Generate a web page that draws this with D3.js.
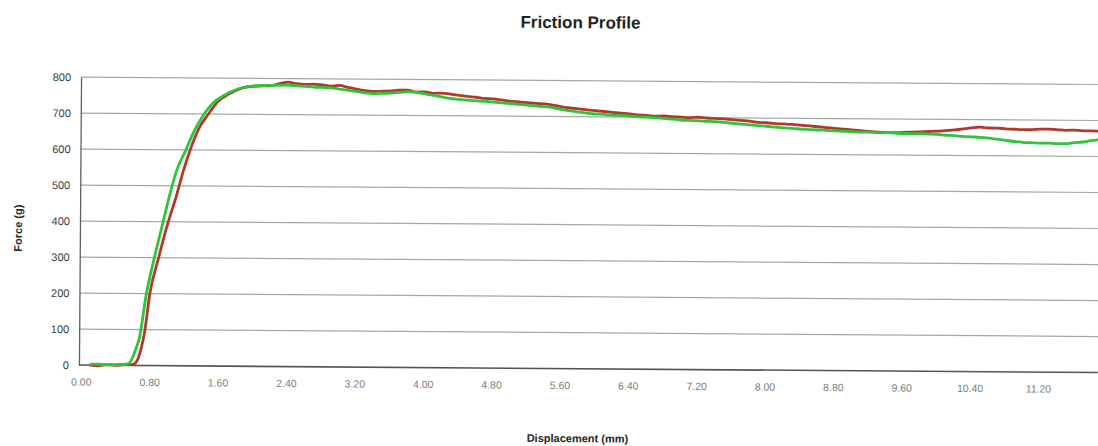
<!DOCTYPE html>
<html lang="en">
<head>
<meta charset="UTF-8">
<title>Friction Profile</title>
<script src="https://cdn.jsdelivr.net/npm/d3@7"></script>
<style>
  body { margin: 0; background: #fff; }
  svg text { font-family: "Liberation Sans", Arial, sans-serif; }
</style>
</head>
<body>
<div id="chart"></div>
<script>
// values (displacement in mm, force in g)
var redX = [0.10, 0.20, 0.30, 0.40, 0.50, 0.58, 0.62, 0.66, 0.70, 0.74, 0.80, 0.90, 1.01, 1.10, 1.18, 1.26, 1.36, 1.47, 1.58, 1.70, 1.85, 2.00, 2.20, 2.40, 2.50, 2.60, 2.70, 2.80, 2.90, 3.00, 3.10, 3.20, 3.30, 3.40, 3.50, 3.60, 3.70, 3.80, 3.90, 4.00, 4.10, 4.20, 4.30, 4.40, 4.50, 4.60, 4.70, 4.80, 4.90, 5.00, 5.10, 5.20, 5.30, 5.40, 5.50, 5.60, 5.70, 5.80, 5.90, 6.00, 6.10, 6.20, 6.30, 6.40, 6.50, 6.60, 6.70, 6.80, 6.90, 7.00, 7.10, 7.20, 7.30, 7.40, 7.50, 7.60, 7.70, 7.80, 7.90, 8.00, 8.10, 8.20, 8.30, 8.40, 8.50, 8.60, 8.70, 8.80, 8.90, 9.00, 9.10, 9.20, 9.30, 9.40, 9.50, 9.60, 9.70, 9.80, 9.90, 10.00, 10.10, 10.20, 10.30, 10.40, 10.50, 10.60, 10.70, 10.80, 10.90, 11.00, 11.10, 11.20, 11.30, 11.40, 11.50, 11.60, 11.70, 11.80, 11.90];
var redF = [0, -2, 2, 0, 2, 2, 4, 15, 45, 90, 200, 300, 400, 470, 540, 600, 660, 700, 735, 755, 772, 778, 780, 790, 786, 784, 785, 783, 780, 782, 777, 772, 768, 766, 767, 768, 770, 770, 765, 766, 762, 763, 760, 757, 754, 752, 749, 748, 745, 742, 740, 738, 736, 735, 732, 727, 724, 722, 719, 717, 715, 713, 711, 709, 706, 705, 703, 704, 702, 701, 700, 701, 699, 698, 697, 695, 693, 691, 688, 687, 685, 684, 683, 681, 679, 677, 675, 673, 671, 669, 667, 665, 663, 662, 662, 663, 664, 665, 666, 667, 669, 671, 674, 677, 679, 677, 677, 675, 674, 673, 673, 675, 675, 674, 672, 673, 671, 671, 670];

var greenX = [0.10, 0.20, 0.30, 0.40, 0.50, 0.55, 0.60, 0.64, 0.68, 0.76, 0.85, 0.95, 1.03, 1.10, 1.21, 1.30, 1.42, 1.52, 1.65, 1.81, 2.00, 2.20, 2.40, 2.50, 2.60, 2.70, 2.80, 2.90, 3.00, 3.10, 3.20, 3.30, 3.40, 3.50, 3.60, 3.70, 3.80, 3.90, 4.00, 4.10, 4.20, 4.30, 4.40, 4.50, 4.60, 4.70, 4.80, 4.90, 5.00, 5.10, 5.20, 5.30, 5.40, 5.50, 5.60, 5.70, 5.80, 5.90, 6.00, 6.10, 6.20, 6.30, 6.40, 6.50, 6.60, 6.70, 6.80, 6.90, 7.00, 7.10, 7.20, 7.30, 7.40, 7.50, 7.60, 7.70, 7.80, 7.90, 8.00, 8.10, 8.20, 8.30, 8.40, 8.50, 8.60, 8.70, 8.80, 8.90, 9.00, 9.10, 9.20, 9.30, 9.40, 9.50, 9.60, 9.70, 9.80, 9.90, 10.00, 10.10, 10.20, 10.30, 10.40, 10.50, 10.60, 10.70, 10.80, 10.90, 11.00, 11.10, 11.20, 11.30, 11.40, 11.50, 11.60, 11.70, 11.80, 11.90];
var greenF = [2, 3, 1, 2, 3, 4, 20, 45, 75, 200, 300, 400, 480, 540, 600, 650, 700, 730, 752, 770, 779, 781, 782, 780, 779, 777, 776, 775, 772, 769, 766, 762, 760, 761, 762, 764, 766, 764, 760, 756, 752, 748, 746, 744, 742, 741, 739, 737, 735, 733, 731, 729, 727, 725, 720, 716, 713, 710, 708, 707, 705, 704, 703, 701, 700, 699, 697, 695, 693, 692, 691, 690, 689, 687, 685, 683, 681, 679, 677, 675, 673, 672, 670, 669, 668, 667, 666, 665, 664, 663, 663, 662, 662, 661, 660, 660, 660, 659, 658, 656, 655, 653, 652, 651, 649, 646, 643, 640, 638, 637, 636, 636, 635, 635, 638, 640, 644, 647];

var yTicks = [0, 100, 200, 300, 400, 500, 600, 700, 800];
var xTicks = [0, 0.8, 1.6, 2.4, 3.2, 4.0, 4.8, 5.6, 6.4, 7.2, 8.0, 8.8, 9.6, 10.4, 11.2];

var W = 1098, H = 446;
var margin = {top: 80.5, right: -1, bottom: 77.5, left: 82};
var width = W - margin.left - margin.right,
    height = H - margin.top - margin.bottom;

var svg = d3.select("#chart").append("svg")
    .attr("width", W)
    .attr("height", H);

// the scan is tilted a little clockwise
var page = svg.append("g")
    .attr("transform", "rotate(0.42," + (W / 2) + "," + (H / 2) + ")");

var g = page.append("g")
    .attr("transform", "translate(" + margin.left + "," + margin.top + ")");

var x = d3.scaleLinear().domain([0, 11.9]).range([0, width]);
var y = d3.scaleLinear().domain([0, 800]).range([height, 0]);

// horizontal gridlines
g.append("g")
  .selectAll("line")
  .data(yTicks.filter(function(d) { return d > 0; }))
  .enter().append("line")
    .attr("x1", x(0) - 2)
    .attr("x2", width)
    .attr("y1", function(d) { return y(d); })
    .attr("y2", function(d) { return y(d); })
    .attr("stroke", "#9fac9f")
    .attr("stroke-width", 1.2);

// y axis
var yAxis = g.append("g")
    .attr("transform", "translate(" + (x(0) - 2) + ",0)")
    .call(d3.axisLeft(y).tickValues(yTicks).tickSize(0).tickPadding(10));
yAxis.select(".domain").attr("stroke", "#5a635a").attr("stroke-width", 1.3);
yAxis.selectAll("text")
    .style("font-size", "11px")
    .attr("fill", "#3e423e");

// x axis
var xAxis = g.append("g")
    .attr("transform", "translate(0," + height + ")")
    .call(d3.axisBottom(x).tickValues(xTicks).tickSize(0).tickPadding(13)
      .tickFormat(d3.format(".2f")));
xAxis.select(".domain").attr("stroke", "#4f574f").attr("stroke-width", 1.6)
    .attr("d", "M" + (x(0) - 2) + ",0H" + width);
xAxis.selectAll("text")
    .style("font-size", "10.5px")
    .attr("fill", "#7a7f7a");

var line = d3.line()
    .x(function(d) { return x(d[0]); })
    .y(function(d) { return y(d[1]); })
    .curve(d3.curveMonotoneX);

g.append("path")
    .datum(d3.zip(redX, redF))
    .attr("fill", "none")
    .attr("stroke", "#b0392c")
    .attr("stroke-width", 2.8)
    .attr("stroke-linejoin", "round")
    .attr("d", line);

g.append("path")
    .datum(d3.zip(greenX, greenF))
    .attr("fill", "none")
    .attr("stroke", "#2fc43c")
    .attr("stroke-width", 2.8)
    .attr("stroke-linejoin", "round")
    .attr("d", line);

// titles
page.append("text")
    .attr("x", 579)
    .attr("y", 28)
    .attr("text-anchor", "middle")
    .style("font-size", "17px")
    .style("font-weight", "bold")
    .attr("fill", "#1e251e")
    .text("Friction Profile");

page.append("text")
    .attr("x", 579)
    .attr("y", 442)
    .attr("text-anchor", "middle")
    .style("font-size", "11px")
    .style("font-weight", "bold")
    .attr("fill", "#1e251e")
    .text("Displacement (mm)");

page.append("text")
    .attr("transform", "translate(22,232) rotate(-90)")
    .attr("text-anchor", "middle")
    .style("font-size", "11px")
    .style("font-weight", "bold")
    .attr("fill", "#1e251e")
    .text("Force (g)");
</script>
</body>
</html>
